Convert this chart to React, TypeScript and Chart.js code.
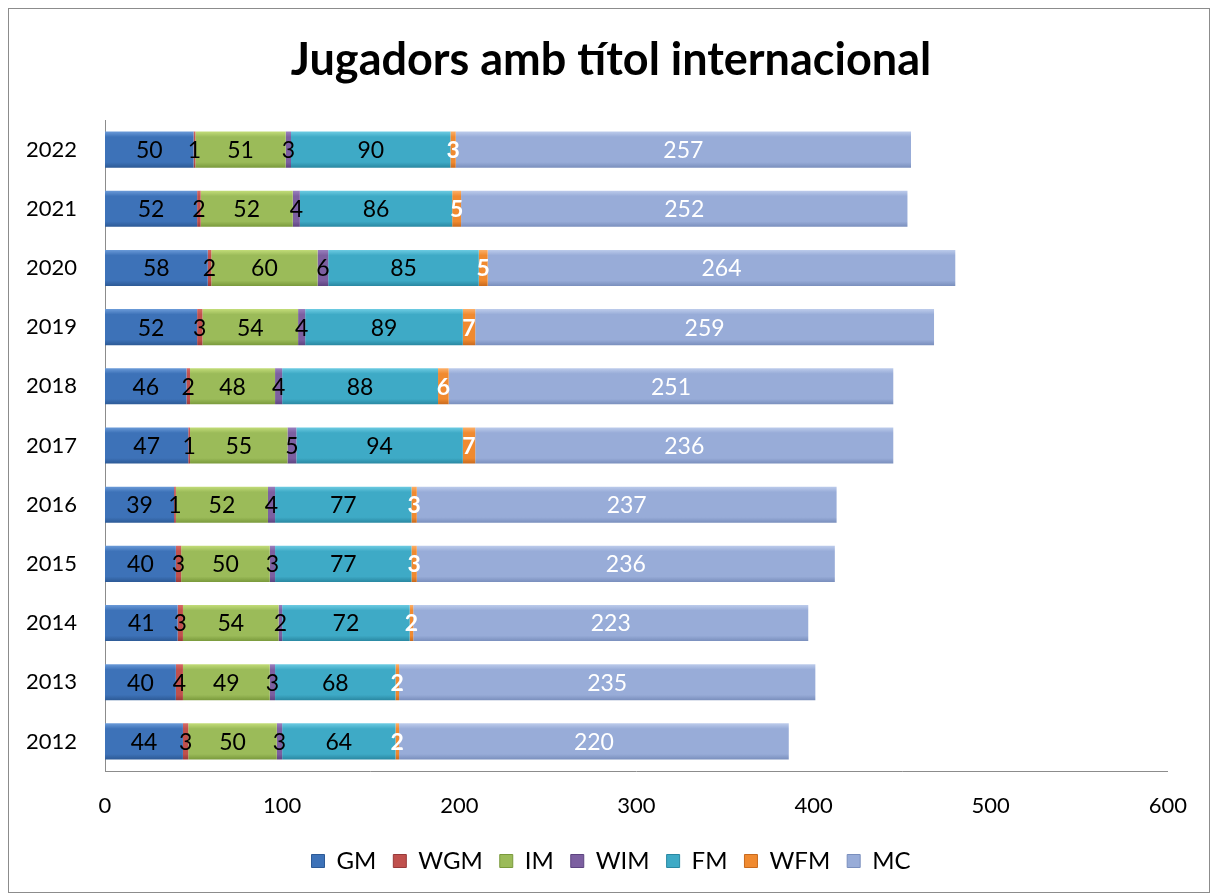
import React, { useEffect, useRef } from "react";
import { Chart, registerables } from "chart.js";

Chart.register(...registerables);

const years = ["2022", "2021", "2020", "2019", "2018", "2017", "2016", "2015", "2014", "2013", "2012"];
const gm = [50, 52, 58, 52, 46, 47, 39, 40, 41, 40, 44];
const wgm = [1, 2, 2, 3, 2, 1, 1, 3, 3, 4, 3];
const im = [51, 52, 60, 54, 48, 55, 52, 50, 54, 49, 50];
const wim = [3, 4, 6, 4, 4, 5, 4, 3, 2, 3, 3];
const fm = [90, 86, 85, 89, 88, 94, 77, 77, 72, 68, 64];
const wfm = [3, 5, 5, 7, 6, 7, 3, 3, 2, 2, 2];
const mc = [257, 252, 264, 259, 251, 236, 237, 236, 223, 235, 220];
const xTicks = [0, 100, 200, 300, 400, 500, 600];

const seriesNames = ["GM", "WGM", "IM", "WIM", "FM", "WFM", "MC"];
const seriesData = [gm, wgm, im, wim, fm, wfm, mc];
const seriesColors = [
  ["#6a9ad8", "#3d72b8", "#2d5a96"],
  ["#d86a66", "#c0504d", "#98393a"],
  ["#c2dc78", "#9bbb59", "#7a9a3c"],
  ["#9a80bf", "#7c5fa0", "#5d4480"],
  ["#6ccbe2", "#3eaac6", "#2a88a2"],
  ["#fbb06a", "#f08a30", "#c86a1e"],
  ["#bccbeb", "#98acd8", "#7a8fbd"],
];
const labelColors = ["#000", "#000", "#000", "#000", "#000", "#fff", "#fff"];
const labelBold = [false, false, false, false, false, true, false];

const FONT = "Lato, 'Open Sans', sans-serif";

const labelPlugin = {
  id: "barLabels",
  afterDatasetsDraw(chart: any) {
    const ctx = chart.ctx;
    ctx.save();
    ctx.textAlign = "center";
    ctx.textBaseline = "middle";
    chart.data.datasets.forEach((ds: any, di: number) => {
      const meta = chart.getDatasetMeta(di);
      meta.data.forEach((bar: any, i: number) => {
        const v = ds.data[i];
        const cx = (bar.x + bar.base) / 2;
        ctx.font = `${labelBold[di] ? "bold " : ""}23px ${FONT}`;
        ctx.fillStyle = labelColors[di];
        ctx.fillText(String(v), cx, bar.y + 1);
      });
    });
    ctx.restore();
  },
};

function makeBg(si: number) {
  return (c: any) => {
    const chart = c.chart;
    const cols = seriesColors[si];
    if (c.type !== "data" || !chart.chartArea || !chart.scales.y) return cols[1];
    const y = chart.scales.y.getPixelForValue(c.dataIndex);
    const g = chart.ctx.createLinearGradient(0, y - 18, 0, y + 18);
    g.addColorStop(0, cols[0]);
    g.addColorStop(0.15, cols[1]);
    g.addColorStop(0.85, cols[1]);
    g.addColorStop(1, cols[2]);
    return g;
  };
}

export default function App() {
  const ref = useRef<HTMLCanvasElement>(null);
  useEffect(() => {
    if (!ref.current) return;
    const chart = new Chart(ref.current, {
      type: "bar",
      data: {
        labels: years,
        datasets: seriesNames.map((n, si) => ({
          label: n,
          data: seriesData[si],
          backgroundColor: makeBg(si) as any,
          borderWidth: 0,
          barPercentage: 0.61,
          categoryPercentage: 1,
        })),
      },
      options: {
        indexAxis: "y",
        responsive: false,
        animation: false,
        layout: { padding: { left: 12, right: 8, top: 0, bottom: 9 } },
        scales: {
          x: {
            stacked: true,
            min: 0,
            max: 600,
            afterBuildTicks: (s: any) => {
              s.ticks = xTicks.map((v) => ({ value: v }));
            },
            grid: { display: false, drawTicks: false },
            border: { display: true, color: "#8c8c8c", width: 1 },
            ticks: { color: "#000", font: { size: 22, family: FONT }, padding: 22 },
            afterFit: (s: any) => {
              s.height = 61;
            },
          },
          y: {
            stacked: true,
            grid: { display: false, drawTicks: false },
            border: { display: true, color: "#8c8c8c", width: 1 },
            ticks: { color: "#000", font: { size: 22, family: FONT }, padding: 28 },
            afterFit: (s: any) => {
              s.width = 84;
            },
          },
          yRight: {
            position: "right",
            display: true,
            grid: { display: false, drawTicks: false },
            border: { display: false },
            ticks: { display: false },
            afterFit: (s: any) => {
              s.width = 33;
            },
          },
        },
        plugins: {
          title: {
            display: true,
            text: "Jugadors amb títol internacional",
            color: "#000",
            font: { size: 45, weight: "bold", family: FONT },
            padding: { top: 24, bottom: 33 },
          },
          legend: {
            position: "bottom",
            labels: {
              color: "#000",
              font: { size: 24, family: FONT },
              boxWidth: 13,
              boxHeight: 13,
              padding: 17,
              generateLabels: (ch: any) =>
                seriesNames.map((n, i) => ({
                  text: n,
                  fillStyle: seriesColors[i][1],
                  strokeStyle: seriesColors[i][2],
                  lineWidth: 1,
                  datasetIndex: i,
                  hidden: false,
                  fontColor: "#000",
                })),
            },
          },
          tooltip: { enabled: false },
        },
      },
      plugins: [labelPlugin],
    });
    return () => chart.destroy();
  }, []);
  return (
    <div style={{ width: 1200, height: 883, border: "1px solid #8c8c8c", background: "#fff" }}>
      <canvas ref={ref} width={1200} height={883} style={{ display: "block" }} />
    </div>
  );
}
